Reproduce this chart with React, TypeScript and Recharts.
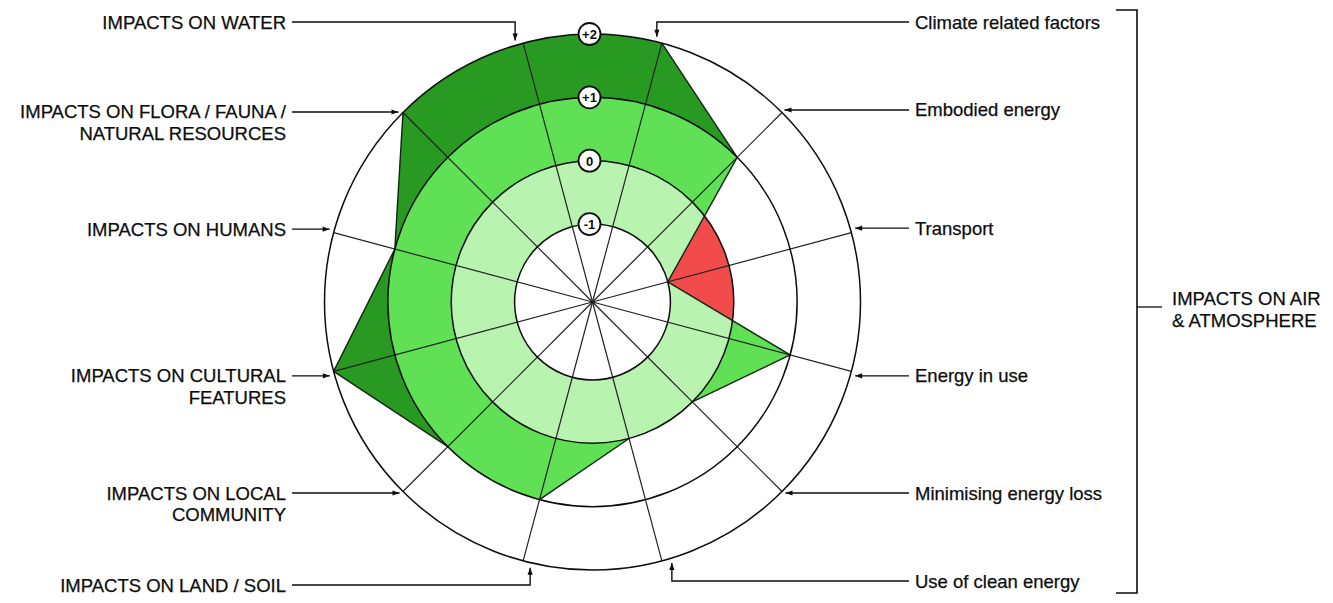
import React from 'react';
import { RadarChart, Radar, PolarAngleAxis, PolarRadiusAxis, Customized } from 'recharts';

// ---------------- data ----------------
const CATEGORY_LINES: string[][] = [
  ['Climate related factors'],
  ['Embodied energy'],
  ['Transport'],
  ['Energy in use'],
  ['Minimising energy loss'],
  ['Use of clean energy'],
  ['IMPACTS ON LAND / SOIL'],
  ['IMPACTS ON LOCAL', 'COMMUNITY'],
  ['IMPACTS ON CULTURAL', 'FEATURES'],
  ['IMPACTS ON HUMANS'],
  ['IMPACTS ON FLORA / FAUNA /', 'NATURAL RESOURCES'],
  ['IMPACTS ON WATER'],
];
const CATEGORIES = CATEGORY_LINES.map((l) => l.join(' '));
const IMPACT_SCORES = [2, 1, -1, 1, 0, 0, 1, 1, 2, 1, 2, 2];
const RING_LEVELS = [-1, 0, 1, 2];
const RING_LABELS = ['-1', '0', '+1', '+2'];
const GROUP_LINES = ['IMPACTS ON AIR', '& ATMOSPHERE'];
const SCORE_DOMAIN: [number, number] = [-2.23, 2];

// ---------------- layout / style ----------------
const W = 1333;
const H = 603;
const CX = 592.5;
const CY = 302;
const OUTER_R = 268;
const RAD = Math.PI / 180;
const FONT = "'Liberation Sans', Arial, Helvetica, sans-serif";
const FONT_SIZE = 18.5;
const LINE_GAP = 21.5;
const LEFT_TEXT_X = 286;
const LEFT_LINE_X = 292;
const RIGHT_TEXT_X = 915;
const RIGHT_LINE_X = 909;
const TIP_GAP = 5;

const DARK = '#289a22';
const MEDIUM = '#5fe055';
const LIGHT = '#b9f3b0';
const RED = '#f24b4b';
const INK = '#0d0d0d';

type Lay = { side: 'left' | 'right'; kind: 'top' | 'side' | 'bottom'; d: number; y?: number };
const LABEL_LAYOUT: Lay[] = [
  { side: 'right', kind: 'top', d: -5, y: 22 },
  { side: 'right', kind: 'side', d: -2.5 },
  { side: 'right', kind: 'side', d: -4.5 },
  { side: 'right', kind: 'side', d: 4.5 },
  { side: 'right', kind: 'side', d: 1.5 },
  { side: 'right', kind: 'bottom', d: 10, y: 581 },
  { side: 'left', kind: 'bottom', d: 7, y: 585 },
  { side: 'left', kind: 'side', d: 1.5 },
  { side: 'left', kind: 'side', d: 4.5 },
  { side: 'left', kind: 'side', d: -3.5 },
  { side: 'left', kind: 'side', d: -0.5 },
  { side: 'left', kind: 'top', d: -8, y: 22 },
];

const data = CATEGORIES.map((name, i) => {
  const row: Record<string, any> = { name, score: IMPACT_SCORES[i] };
  RING_LEVELS.forEach((lv, k) => {
    row[`ring${k}`] = lv;
  });
  return row;
});

const UNION_CLIP = 'impactUnionClip';

// ---------------- helpers ----------------
function polar(cx: number, cy: number, r: number, angle: number) {
  return { x: cx + r * Math.cos(-angle * RAD), y: cy + r * Math.sin(-angle * RAD) };
}

function arrowPts(x: number, y: number, dir: 'right' | 'left' | 'up' | 'down') {
  const L = 7;
  const Wd = 2.6;
  switch (dir) {
    case 'right':
      return `${x},${y} ${x - L},${y - Wd} ${x - L},${y + Wd}`;
    case 'left':
      return `${x},${y} ${x + L},${y - Wd} ${x + L},${y + Wd}`;
    case 'down':
      return `${x},${y} ${x - Wd},${y - L} ${x + Wd},${y - L}`;
    default:
      return `${x},${y} ${x - Wd},${y + L} ${x + Wd},${y + L}`;
  }
}

// ---------------- shapes ----------------
const diskShape = (fill: string, clipped: boolean) => (props: any) => {
  const p = props.points && props.points[0];
  if (!p) return <g />;
  return (
    <circle
      cx={p.cx}
      cy={p.cy}
      r={p.radius}
      fill={fill}
      stroke="none"
      clipPath={clipped ? `url(#${UNION_CLIP})` : undefined}
    />
  );
};

const ringStrokeShape = (props: any) => {
  const p = props.points && props.points[0];
  if (!p) return <g />;
  return <circle cx={p.cx} cy={p.cy} r={p.radius} fill="none" stroke={INK} strokeWidth={1.5} />;
};

const spokeShape = (props: any) => {
  const pts = props.points || [];
  return (
    <g>
      {pts.map((p: any, i: number) => (
        <line key={i} x1={p.cx} y1={p.cy} x2={p.x} y2={p.y} stroke="#222" strokeWidth={1.2} />
      ))}
    </g>
  );
};

const scoreShape = (props: any) => {
  const pts = props.points || [];
  if (!pts.length) return <g />;
  const n = pts.length;
  const poly = pts.map((p: any) => `${p.x},${p.y}`).join(' ');
  const sectors = pts.map((p: any, i: number) => {
    const q = pts[(i + 1) % n];
    const r = Math.min(p.radius, q.radius);
    const a = polar(p.cx, p.cy, r, p.angle);
    const b = polar(p.cx, p.cy, r, q.angle);
    return `M${p.cx},${p.cy} L${a.x},${a.y} A${r},${r} 0 0 1 ${b.x},${b.y} Z`;
  });
  const edges = pts
    .map((p: any, i: number) => ({ p, q: pts[(i + 1) % n] }))
    .filter((e: any) => e.p.value !== e.q.value);
  return (
    <g>
      <defs>
        <clipPath id={UNION_CLIP}>
          <polygon points={poly} />
          {sectors.map((d: string, i: number) => (
            <path key={i} d={d} />
          ))}
        </clipPath>
      </defs>
      {edges.map((e: any, i: number) => (
        <line key={i} x1={e.p.x} y1={e.p.y} x2={e.q.x} y2={e.q.y} stroke="#142414" strokeWidth={1.4} />
      ))}
    </g>
  );
};

// ---------------- ticks ----------------
const AngleTick = (props: any) => {
  const { payload } = props;
  const i = CATEGORIES.indexOf(payload && payload.value);
  if (i < 0) return <g />;
  const lay = LABEL_LAYOUT[i];
  const pt = polar(CX, CY, OUTER_R, payload.coordinate);
  const lines = CATEGORY_LINES[i];
  const isLeft = lay.side === 'left';
  const textX = isLeft ? LEFT_TEXT_X : RIGHT_TEXT_X;
  const lineX = isLeft ? LEFT_LINE_X : RIGHT_LINE_X;
  let ly: number;
  let path: string;
  let arrow: string;
  if (lay.kind === 'side') {
    ly = pt.y + lay.d;
    const circX = CX + (isLeft ? -1 : 1) * Math.sqrt(Math.max(0, OUTER_R * OUTER_R - (ly - CY) * (ly - CY)));
    const tipX = isLeft ? circX - TIP_GAP : circX + TIP_GAP;
    path = `M${lineX},${ly} H${tipX}`;
    arrow = arrowPts(tipX, ly, isLeft ? 'right' : 'left');
  } else {
    ly = lay.y as number;
    const vx = pt.x + lay.d;
    const isTop = lay.kind === 'top';
    const circY = CY + (isTop ? -1 : 1) * Math.sqrt(Math.max(0, OUTER_R * OUTER_R - (vx - CX) * (vx - CX)));
    const tipY = isTop ? circY - TIP_GAP : circY + TIP_GAP;
    path = `M${lineX},${ly} H${vx} V${tipY}`;
    arrow = arrowPts(vx, tipY, isTop ? 'down' : 'up');
  }
  return (
    <g>
      <path d={path} fill="none" stroke={INK} strokeWidth={1.4} />
      <polygon points={arrow} fill={INK} />
      {lines.map((t, k) => (
        <text
          key={k}
          x={textX}
          y={ly + k * LINE_GAP}
          textAnchor={isLeft ? 'end' : 'start'}
          dominantBaseline="central"
          fontFamily={FONT}
          fontSize={FONT_SIZE}
          fill={INK}
          stroke={INK}
          strokeWidth={0.25}
        >
          {t}
        </text>
      ))}
    </g>
  );
};

const RingTick = (props: any) => {
  const { x, y, payload } = props;
  const k = RING_LEVELS.indexOf(payload && payload.value);
  if (k < 0) return <g />;
  const lx = x - 3;
  return (
    <g>
      <circle cx={lx} cy={y} r={11} fill="#fff" stroke={INK} strokeWidth={1.8} />
      <text
        x={lx}
        y={y + 0.5}
        textAnchor="middle"
        dominantBaseline="central"
        fontFamily={FONT}
        fontSize={13}
        fontWeight="bold"
        fill={INK}
      >
        {RING_LABELS[k]}
      </text>
    </g>
  );
};

const Bracket = () => {
  const bx = 1137;
  return (
    <g>
      <path d={`M1116,10 H${bx} V593 H1116`} fill="none" stroke={INK} strokeWidth={1.6} />
      <line x1={bx} y1={307} x2={1162} y2={307} stroke={INK} strokeWidth={1.3} />
      {GROUP_LINES.map((t, k) => (
        <text
          key={k}
          x={1172}
          y={298 + k * 22}
          dominantBaseline="central"
          fontFamily={FONT}
          fontSize={FONT_SIZE}
          fill={INK}
          stroke={INK}
          strokeWidth={0.25}
        >
          {t}
        </text>
      ))}
    </g>
  );
};

export default function App() {
  return (
    <div
      style={{ position: 'absolute', left: 0, top: 0, width: W, height: H, background: '#fff', overflow: 'hidden' }}
    >
      <RadarChart
        width={W}
        height={H}
        data={data}
        cx={CX}
        cy={CY}
        outerRadius={OUTER_R}
        startAngle={75}
        endAngle={-285}
        margin={{ top: 0, right: 0, bottom: 0, left: 0 }}
      >
        <PolarRadiusAxis
          type="number"
          domain={SCORE_DOMAIN}
          angle={90}
          ticks={RING_LEVELS as any}
          tick={false}
          axisLine={false}
          tickLine={false}
        />
        {/* deficit below the 0 ring */}
        <Radar dataKey="ring1" isAnimationActive={false} dot={false} shape={diskShape(RED, false)} />
        {/* achieved bands, clipped to the impact profile */}
        <Radar dataKey="ring3" isAnimationActive={false} dot={false} shape={diskShape(DARK, true)} />
        <Radar dataKey="ring2" isAnimationActive={false} dot={false} shape={diskShape(MEDIUM, true)} />
        <Radar dataKey="ring1" isAnimationActive={false} dot={false} shape={diskShape(LIGHT, true)} />
        <Radar dataKey="ring0" isAnimationActive={false} dot={false} shape={diskShape('#ffffff', false)} />
        {/* the impact profile */}
        <Radar dataKey="score" isAnimationActive={false} dot={false} shape={scoreShape} />
        {/* grid */}
        <Radar dataKey="ring3" isAnimationActive={false} dot={false} shape={spokeShape} />
        <Radar dataKey="ring0" isAnimationActive={false} dot={false} shape={ringStrokeShape} />
        <Radar dataKey="ring1" isAnimationActive={false} dot={false} shape={ringStrokeShape} />
        <Radar dataKey="ring2" isAnimationActive={false} dot={false} shape={ringStrokeShape} />
        <Radar dataKey="ring3" isAnimationActive={false} dot={false} shape={ringStrokeShape} />
        <PolarAngleAxis dataKey="name" type="category" tick={AngleTick} tickLine={false} axisLine={false} />
        <PolarRadiusAxis
          type="number"
          domain={SCORE_DOMAIN}
          angle={90}
          ticks={RING_LEVELS as any}
          tick={RingTick}
          axisLine={false}
          tickLine={false}
        />
        <Customized component={Bracket} />
      </RadarChart>
    </div>
  );
}
